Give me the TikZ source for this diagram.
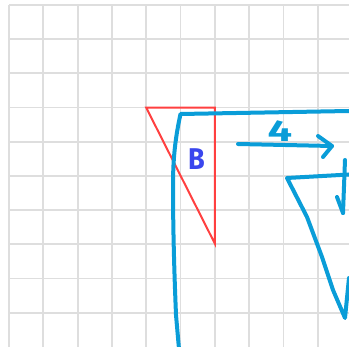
\documentclass[tikz,border=0pt]{standalone}
\usepackage{graphicx}
\usepackage{fontspec}
\setmainfont{Fira Sans}
\begin{document}
\begin{tikzpicture}[x=1pt,y=-1pt,
  gridline/.style={draw=black!13,line width=1.8pt},
  redline/.style={draw=red!75!white,line width=2pt,line join=miter},
  bluestroke/.style={draw=penblue,line width=4pt,line cap=round,line join=round},
  lbl/.style={font=\fontsize{30}{30}\selectfont\bfseries,inner sep=0pt}]
\definecolor{penblue}{HTML}{0A9DD8}
\definecolor{letterblue}{HTML}{3A46EE}
\useasboundingbox (0,0) rectangle (349,347);
\fill[white] (0,0) rectangle (349,347);
% grid
\foreach \i in {0,...,9} {
  \draw[gridline] (9+34.3*\i,5) -- (9+34.3*\i,347);
  \draw[gridline] (9,5+34.2*\i) -- (349,5+34.2*\i);
}
% red triangle
\coordinate (ta) at (146.2,107.6);
\coordinate (tb) at (214.8,107.6);
\coordinate (tc) at (214.8,243.5);
\draw[redline] (ta) -- (tb) -- (tc) -- cycle;
\node[lbl,text=letterblue] (B) at (196.5,159) {\scalebox{0.9}[1]{B}};
% big blue frame
\coordinate (f0) at (180.5,114);
\coordinate (f1) at (349,111);
\draw[bluestroke] (f1) -- (f0) .. controls (176,135) and (173,155) .. (173,185)
  .. controls (173,240) and (175,290) .. (176,315) -- (179,349);
% right arrow with label 4
\coordinate (a0) at (238,144);
\coordinate (a1) at (332,146);
\draw[bluestroke] (a0) -- (a1);
\draw[bluestroke] (318,136) -- (a1) -- (323,157);
\node[lbl,text=penblue] (four) at (280,131) {\scalebox{1.45}[1]{4}};
% down arrow at right edge
\coordinate (d0) at (345,160);
\coordinate (d1) at (343,213);
\draw[bluestroke] (d0) -- (d1);
\draw[bluestroke] (337,197) -- (d1);
% inner shape
\coordinate (s0) at (349,174.5);
\coordinate (s1) at (287,178);
\coordinate (s2) at (345,318);
\draw[bluestroke] (s0) -- (s1) -- (307,217) -- (322,257) -- (333,290) -- (s2) -- (349,278);
\end{tikzpicture}
\end{document}
